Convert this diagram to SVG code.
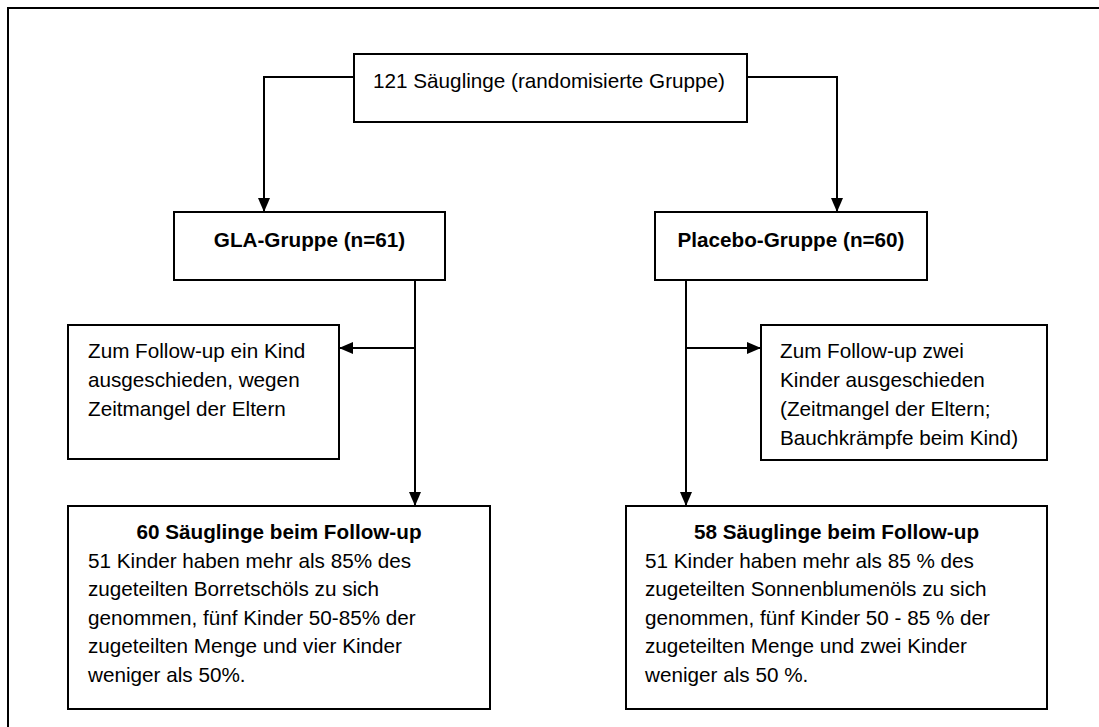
<svg xmlns="http://www.w3.org/2000/svg" width="1099" height="727" viewBox="0 0 1099 727">
  <defs>
    <style>
      .box { fill: #ffffff; stroke: #000000; stroke-width: 2; }
      .line { fill: none; stroke: #000000; stroke-width: 2; }
      .t { font-family: "Liberation Sans", Arial, sans-serif; font-size: 20.7px; fill: #000000; }
      .b { font-weight: bold; }
      .c { text-anchor: middle; }
    </style>
    <marker id="arrow" viewBox="0 0 14 12" refX="14" refY="6" markerWidth="14" markerHeight="12" markerUnits="userSpaceOnUse" orient="auto">
      <path d="M0,0 L14,6 L0,12 Z" fill="#000000"/>
    </marker>
  </defs>

  <rect width="1099" height="727" fill="#ffffff"/>

  <!-- outer frame (continues past the right and bottom edges) -->
  <path class="line" d="M8,740 V8 H1110"/>

  <!-- connectors -->
  <g id="connectors">
    <path class="line" d="M354,77 H264 V212" marker-end="url(#arrow)"/>
    <path class="line" d="M747,77 H837 V212" marker-end="url(#arrow)"/>
    <path class="line" d="M415,280 V506" marker-end="url(#arrow)"/>
    <path class="line" d="M415,348 H339" marker-end="url(#arrow)"/>
    <path class="line" d="M686,280 V506" marker-end="url(#arrow)"/>
    <path class="line" d="M686,348 H761" marker-end="url(#arrow)"/>
  </g>

  <g id="node-randomised">
    <rect class="box" x="354" y="54" width="393" height="68"/>
    <text class="t c" x="549" y="88">121 Säuglinge (randomisierte Gruppe)</text>
  </g>

  <g id="node-gla">
    <rect class="box" x="174" y="212" width="271" height="68"/>
    <text class="t b c" x="309.5" y="247">GLA-Gruppe (n=61)</text>
  </g>

  <g id="node-placebo">
    <rect class="box" x="655" y="212" width="272" height="68"/>
    <text class="t b c" x="791" y="247">Placebo-Gruppe (n=60)</text>
  </g>

  <g id="node-gla-dropout">
    <rect class="box" x="68" y="325" width="271" height="134"/>
    <text class="t" x="88" y="358">Zum Follow-up ein Kind</text>
    <text class="t" x="88" y="387">ausgeschieden, wegen</text>
    <text class="t" x="88" y="416">Zeitmangel der Eltern</text>
  </g>

  <g id="node-placebo-dropout">
    <rect class="box" x="761" y="325" width="286" height="135"/>
    <text class="t" x="780" y="358">Zum Follow-up zwei</text>
    <text class="t" x="780" y="387">Kinder ausgeschieden</text>
    <text class="t" x="780" y="416">(Zeitmangel der Eltern;</text>
    <text class="t" x="780" y="445">Bauchkrämpfe beim Kind)</text>
  </g>

  <g id="node-gla-followup">
    <rect class="box" x="68" y="506" width="422" height="203"/>
    <text class="t b c" x="279" y="539">60 Säuglinge beim Follow-up</text>
    <text class="t" x="88" y="567.5">51 Kinder haben mehr als 85% des</text>
    <text class="t" x="88" y="596">zugeteilten Borretschöls zu sich</text>
    <text class="t" x="88" y="624.5">genommen, fünf Kinder 50-85% der</text>
    <text class="t" x="88" y="653">zugeteilten Menge und vier Kinder</text>
    <text class="t" x="88" y="681.5">weniger als 50%.</text>
  </g>

  <g id="node-placebo-followup">
    <rect class="box" x="626" y="506" width="421" height="203"/>
    <text class="t b c" x="836.5" y="539">58 Säuglinge beim Follow-up</text>
    <text class="t" x="645" y="567.5">51 Kinder haben mehr als 85 % des</text>
    <text class="t" x="645" y="596">zugeteilten Sonnenblumenöls zu sich</text>
    <text class="t" x="645" y="624.5">genommen, fünf Kinder 50 - 85 % der</text>
    <text class="t" x="645" y="653">zugeteilten Menge und zwei Kinder</text>
    <text class="t" x="645" y="681.5">weniger als 50 %.</text>
  </g>
</svg>
